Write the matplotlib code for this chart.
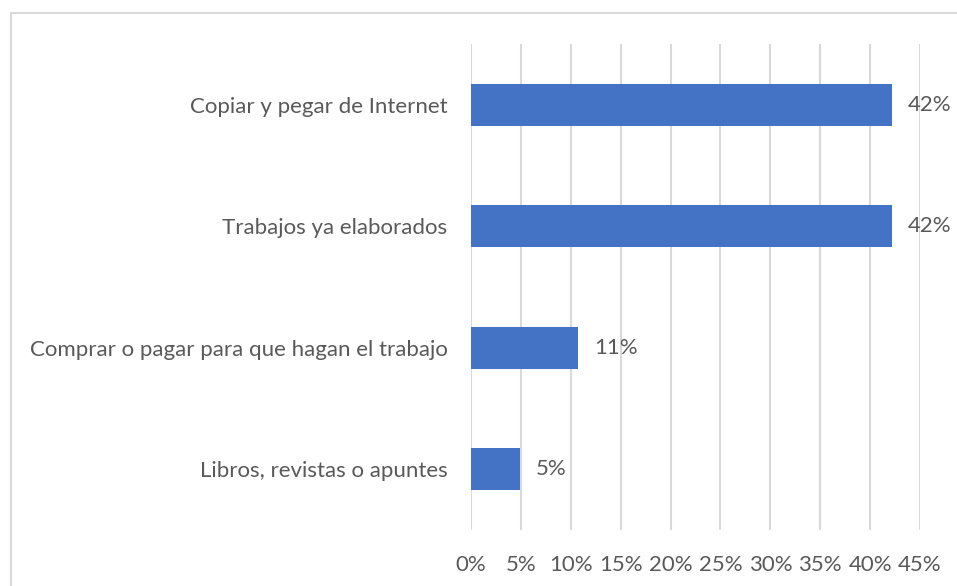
import matplotlib
matplotlib.use("Agg")
import matplotlib.pyplot as plt
from matplotlib.patches import Rectangle
from matplotlib.ticker import FuncFormatter, MultipleLocator

categories = ["Copiar y pegar de Internet", "Trabajos ya elaborados",
              "Comprar o pagar para que hagan el trabajo", "Libros, revistas o apuntes"]
values = [0.422, 0.422, 0.107, 0.049]
labels = ["42%", "42%", "11%", "5%"]

plt.rcParams['font.family'] = ['Lato', 'DejaVu Sans']
TXT = "#595959"
BAR = "#4472C4"
GRID = "#D9D9D9"
FS = 16

fig = plt.figure(figsize=(9.57, 5.86), dpi=100)
W, H = 957, 586
fig.patches.append(Rectangle((11 / W, -0.1), 1.2, (H - 13) / H + 0.1, transform=fig.transFigure,
                             fill=False, edgecolor=GRID, linewidth=1.5))
ax = fig.add_axes([471 / W, 1 - 530 / H, (920 - 471) / W, (530 - 44) / H])

y = list(range(len(categories)))
ax.barh(y, values, height=0.345, color=BAR, zorder=3)
ax.set_ylim(len(categories) - 0.5, -0.5)
ax.set_yticks(y)
ax.set_yticklabels(categories)
ax.set_xlim(0, 0.45)
ax.xaxis.set_major_locator(MultipleLocator(0.05))
ax.xaxis.set_major_formatter(FuncFormatter(lambda v, p: f"{v*100:.0f}%"))
ax.grid(axis='x', color=GRID, linewidth=1.5, zorder=0)
for s in ax.spines.values():
    s.set_visible(False)
ax.tick_params(axis='both', length=0, labelsize=FS, colors=TXT)
ax.tick_params(axis='y', pad=17)
ax.tick_params(axis='x', pad=18)

for yi, v, lab in zip(y, values, labels):
    ax.annotate(lab, (v, yi), xytext=(16, 0), textcoords='offset pixels',
                va='center', ha='left', fontsize=FS, color=TXT)

fig.savefig("out.png", dpi=100)
